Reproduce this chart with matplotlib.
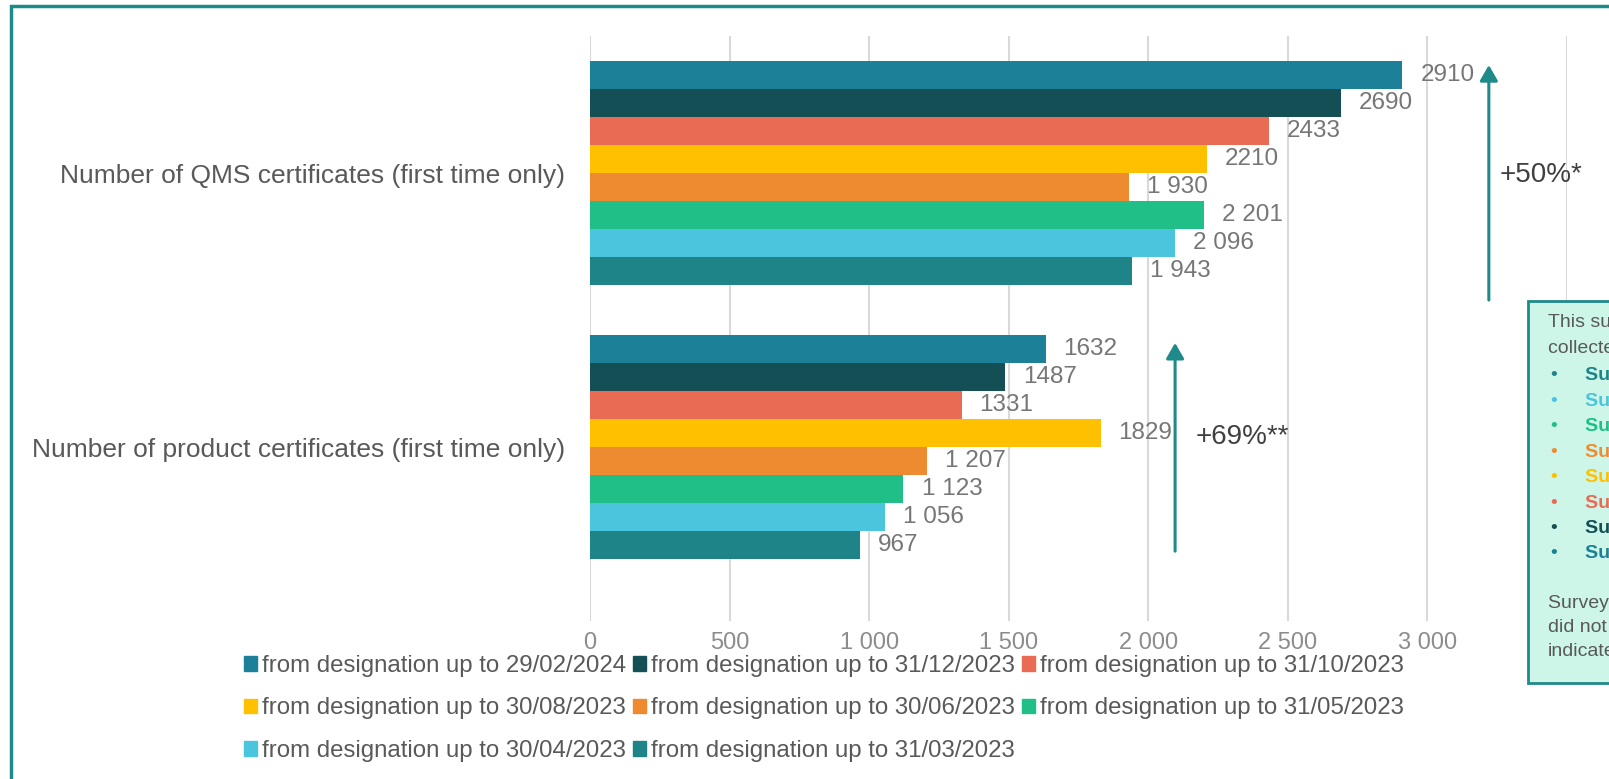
import numpy as np
import matplotlib.pyplot as plt
from matplotlib.patches import Rectangle, Patch

plt.rcParams['font.family'] = ['Liberation Sans', 'DejaVu Sans']

# data
categories = ['Number of QMS certificates (first time only)',
              'Number of product certificates (first time only)']
periods = ['from designation up to 29/02/2024', 'from designation up to 31/12/2023',
           'from designation up to 31/10/2023', 'from designation up to 30/08/2023',
           'from designation up to 30/06/2023', 'from designation up to 31/05/2023',
           'from designation up to 30/04/2023', 'from designation up to 31/03/2023']
qms = [2910, 2690, 2433, 2210, 1930, 2201, 2096, 1943]
product = [1632, 1487, 1331, 1829, 1207, 1123, 1056, 967]
qms_labels = ['2910', '2690', '2433', '2210', '1 930', '2 201', '2 096', '1 943']
product_labels = ['1632', '1487', '1331', '1829', '1 207', '1 123', '1 056', '967']
colors = ['#1c8198', '#134f54', '#e96b54', '#ffc000', '#ee8b30', '#1fbf87', '#4bc4dd', '#1e8488']

W, H = 1609, 779
fig = plt.figure(figsize=(W / 100, H / 100), dpi=100)
ax = fig.add_axes([590 / W, 1 - 621 / H, 977 / W, 585 / H])

h = 0.102
cat_y = [1, 0]
for i, (per, col) in enumerate(zip(periods, colors)):
    ys = [c + (3.5 - i) * h for c in cat_y]
    bars = ax.barh(ys, [qms[i], product[i]], height=h, color=col, label=per, zorder=2)
    ax.bar_label(bars, labels=[qms_labels[i], product_labels[i]], padding=13,
                 color='#767676', fontsize=17.5)

ax.set_xlim(0, 3500)
ax.set_ylim(-0.634, 1.501)
ticks = np.arange(0, 3501, 500)
ax.set_xticks(ticks)
# last label sits under the note box in the original
ax.set_xticklabels([f'{t:,}'.replace(',', ' ') if t < 3500 else '' for t in ticks])
ax.set_yticks(cat_y)
ax.set_yticklabels(categories)
ax.tick_params(axis='x', length=0, pad=8, labelsize=17, labelcolor='#8c8c8c')
ax.tick_params(axis='y', length=0, pad=18, labelsize=19, labelcolor='#595959')
ax.grid(axis='x', color='#d9d9d9', lw=1.5, zorder=0)
for s in ax.spines.values():
    s.set_visible(False)

# growth arrows
teal = '#1e8a8a'
for x, y0, y1 in [(3220, 0.5375, 1.395), (2096, -0.379, 0.381)]:
    ax.annotate('', xy=(x, y1), xytext=(x, y0),
                arrowprops=dict(arrowstyle='-|>,head_width=0.27,head_length=0.47',
                                mutation_scale=20, lw=2.2, color=teal,
                                shrinkA=0, shrinkB=0))
ax.text(3257, 0.994, '+50%*', fontsize=20, color='#404040', ha='left', va='center')
ax.text(2171, 0.0375, '+69%**', fontsize=20, color='#404040', ha='left', va='center')

# legend, row-major order
handles = [Patch(color=c) for c in colors]
order = [0, 3, 6, 1, 4, 7, 2, 5]
fig.legend([handles[k] for k in order], [periods[k] for k in order], ncol=3,
           loc='upper left', bbox_to_anchor=(244 / W, 1 - 655 / H), frameon=False,
           fontsize=17.3, labelcolor='#595959', handlelength=0.54, handleheight=0.54,
           handletextpad=0.21, columnspacing=0.3, labelspacing=0.85,
           borderpad=0, borderaxespad=0)

# outer frame
fig.patches.append(Rectangle((11 / W, -0.1), 2, 1.1 - 6 / H, transform=fig.transFigure,
                             fill=False, ec=teal, lw=2.5, zorder=0))

# side note box (cut at the right edge)
fig.patches.append(Rectangle((1528 / W, 1 - 683 / H), 0.2, 382 / H, transform=fig.transFigure,
                             fc='#cdf5e8', ec=teal, lw=2, zorder=5))
note_x = 1548 / W
fs = 14
fig.text(note_x, 1 - 323 / H, 'This summary is based on data', fontsize=fs,
         color='#595959', va='center', zorder=6)
fig.text(note_x, 1 - 349 / H, 'collected through 8 surveys:', fontsize=fs,
         color='#595959', va='center', zorder=6)
for k in range(8):
    yy = 1 - (376 + k * 25.4) / H
    c = colors[7 - k]
    fig.text(1550 / W, yy, '•', fontsize=fs, color=c, va='center', zorder=6)
    fig.text(1585 / W, yy, f'Survey {k + 1}', fontsize=fs, color=c,
             fontweight='bold', va='center', zorder=6)
for k, line in enumerate(['Surveyed bodies that', 'did not reply are not', 'indicated.']):
    fig.text(note_x, 1 - (603 + k * 24.5) / H, line, fontsize=fs, color='#595959',
             va='center', zorder=6)

fig.savefig('out.png', dpi=100)
